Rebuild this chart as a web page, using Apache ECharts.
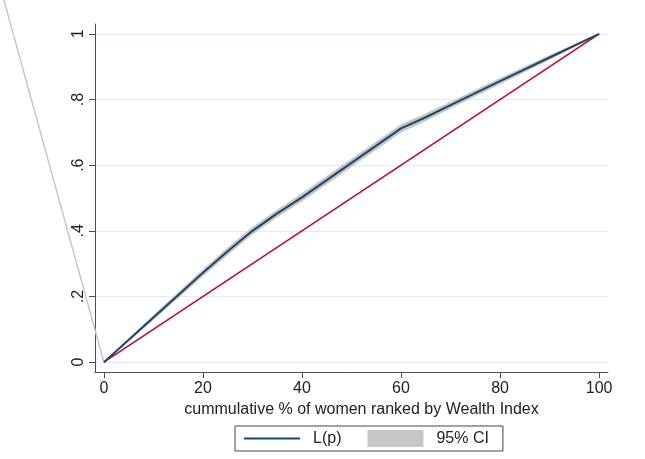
<!DOCTYPE html>
<html>
<head>
<meta charset="utf-8">
<script src="https://cdn.jsdelivr.net/npm/echarts@6/dist/echarts.min.js"></script>
<style>
html,body{margin:0;padding:0;background:#fff;}
#chart{width:645px;height:459px;}
</style>
</head>
<body>
<div id="chart"></div>
<script>
// ---- data ----
const pctWomen   = [0, 10, 20, 25, 30, 35, 40, 50, 60, 65, 70, 80, 90, 100];
const lorenzP    = [0, 0.136, 0.272, 0.338, 0.400, 0.453, 0.502, 0.607, 0.712, 0.746, 0.783, 0.856, 0.928, 1];
const ciLower    = [0, 0.130, 0.263, 0.328, 0.390, 0.443, 0.491, 0.596, 0.701, 0.736, 0.774, 0.848, 0.922, 1];
const ciUpper    = [0, 0.142, 0.281, 0.348, 0.410, 0.463, 0.513, 0.618, 0.723, 0.756, 0.792, 0.864, 0.934, 1];
const equalityX  = [0, 100];
const equalityY  = [0, 1];
const strayX     = [0, -20.2, -30];
const strayY     = [0, 1.103, 1.638];
const xTicks     = [0, 20, 40, 60, 80, 100];
const xTickLabels= ['0', '20', '40', '60', '80', '100'];
const yTicks     = [0, 0.2, 0.4, 0.6, 0.8, 1];
const yTickLabels= ['0', '.2', '.4', '.6', '.8', '1'];
const xTitle     = 'cummulative % of women ranked by Wealth Index';
const legendNames= ['L(p)', '95% CI'];

const pairs = (xs, ys) => xs.map((x, i) => [x, ys[i]]);
const bandData = pctWomen.map((x, i) => [x, ciLower[i], ciUpper[i]]);
const strayData = pairs(strayX, strayY);

const FONT = 'Liberation Sans, Arial, Helvetica, sans-serif';
const AXIS_COLOR = '#4d4d4d';
const CI_COLOR = '#c6c6c6';

const chart = echarts.init(document.getElementById('chart'), null, {renderer: 'canvas'});
chart.setOption({
  backgroundColor: '#ffffff',
  animation: false,
  textStyle: {fontFamily: FONT},
  grid: {left: 95, right: 37, top: 24, bottom: 87, containLabel: false},
  xAxis: {
    type: 'value', min: -1.8, max: 101.8,
    name: xTitle, nameLocation: 'middle', nameGap: 29,
    nameTextStyle: {fontSize: 16, color: '#222', fontFamily: FONT, padding: [0, 0, 0, 20]},
    axisLine: {show: true, onZero: false, lineStyle: {color: AXIS_COLOR, width: 1}},
    axisTick: {show: true, length: 6, customValues: xTicks, lineStyle: {color: AXIS_COLOR}},
    axisLabel: {customValues: xTicks, margin: 9, fontSize: 16, color: '#222', fontFamily: FONT,
      formatter: v => xTickLabels[xTicks.indexOf(v)] ?? ''},
    splitLine: {show: false}
  },
  yAxis: {
    type: 'value', min: -0.03, max: 1.03,
    axisLine: {show: true, onZero: false, lineStyle: {color: AXIS_COLOR, width: 1}},
    axisTick: {show: true, length: 6, customValues: yTicks, lineStyle: {color: AXIS_COLOR}},
    axisLabel: {customValues: yTicks, rotate: 90, margin: 8, fontSize: 16, color: '#222', fontFamily: FONT,
      formatter: v => { const i = yTicks.findIndex(t => Math.abs(t - v) < 1e-9); return i >= 0 ? yTickLabels[i] : ''; }},
    splitLine: {show: true, lineStyle: {color: '#e4eef1', width: 1.2}}
  },
  legend: {
    show: true, bottom: 8, left: 235,
    orient: 'horizontal',
    borderColor: '#444', borderWidth: 1, borderRadius: 0,
    padding: [4, 14, 4, 8],
    itemGap: 26, itemWidth: 56, itemHeight: 17,
    textStyle: {fontSize: 16, color: '#222', fontFamily: FONT, padding: [0, 0, 0, 8]},
    data: [
      {name: legendNames[0], itemStyle: {opacity: 0}, lineStyle: {color: '#1a476f', width: 2}},
      {name: legendNames[1], icon: 'rect', itemStyle: {color: CI_COLOR, borderWidth: 0}}
    ]
  },
  series: [
    {
      name: legendNames[1], type: 'custom', data: bandData, z: 1, silent: true,
      itemStyle: {color: CI_COLOR},
      encode: {x: 0, y: [1, 2]},
      renderItem: (params, api) => {
        if (params.dataIndex !== 0) return null;
        const top = bandData.map(d => api.coord([d[0], d[2]]));
        const bot = bandData.slice().reverse().map(d => api.coord([d[0], d[1]]));
        return {type: 'polygon', shape: {points: top.concat(bot)},
          style: {fill: CI_COLOR, stroke: CI_COLOR, lineWidth: 1}};
      }
    },
    {
      name: 'stray', type: 'custom', data: strayData, z: 1, silent: true, clip: false,
      encode: {x: 0, y: 1},
      renderItem: (params, api) => {
        if (params.dataIndex !== 0) return null;
        return {type: 'polyline', shape: {points: strayData.map(d => api.coord(d))},
          style: {fill: null, stroke: CI_COLOR, lineWidth: 1.5}};
      }
    },
    {
      name: 'equality', type: 'line', data: pairs(equalityX, equalityY),
      symbol: 'none', lineStyle: {color: '#c10534', width: 1.6}, z: 3
    },
    {
      name: legendNames[0], type: 'line', data: pairs(pctWomen, lorenzP),
      symbol: 'none', itemStyle: {color: '#1a476f'}, lineStyle: {color: '#1a476f', width: 2}, z: 4
    }
  ]
});
</script>
</body>
</html>
